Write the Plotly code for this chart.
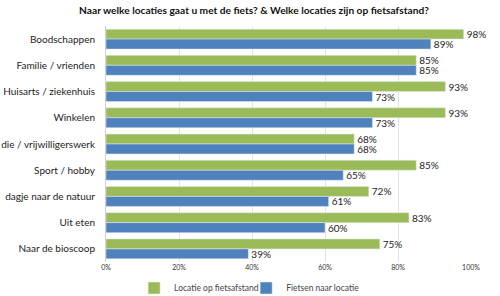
import plotly.graph_objects as go

categories = ["Boodschappen", "Familie / vrienden", "Huisarts / ziekenhuis", "Winkelen",
              "die / vrijwilligerswerk", "Sport / hobby", "dagje naar de natuur",
              "Uit eten", "Naar de bioscoop"]
locatie_op_fietsafstand = [98, 85, 93, 93, 68, 85, 72, 83, 75]
fietsen_naar_locatie = [89, 85, 73, 73, 68, 65, 61, 60, 39]
tick_vals = [0, 20, 40, 60, 80, 100]
tick_text = ["0%", "20%", "40%", "60%", "80%", "100%"]

GREEN = "#9BBB59"
BLUE = "#4F81BD"
FONT = "Lato"

fig = go.Figure()
for name, vals, color, leg in [("Locatie op fietsafstand", locatie_op_fietsafstand, GREEN, "legend"),
                               ("Fietsen naar locatie", fietsen_naar_locatie, BLUE, "legend2")]:
    fig.add_trace(go.Bar(
        y=categories, x=vals, orientation="h",
        name=name, marker_color=color, legend=leg,
        text=[f"{v}%" for v in vals], textposition="outside", cliponaxis=False,
        constraintext="none",
        textfont=dict(size=10, color="#222222", family=FONT),
    ))

legend_style = dict(orientation="h", xanchor="left", y=0.027, yanchor="middle",
                    yref="container", bgcolor="rgba(0,0,0,0)",
                    font=dict(size=8.5, family=FONT, color="#444444"), itemwidth=30)

fig.update_layout(
    width=500, height=296,
    margin=dict(l=106, r=29, t=26, b=34, autoexpand=False),
    paper_bgcolor="white", plot_bgcolor="white",
    barmode="group", bargap=0.24, bargroupgap=0,
    font=dict(family=FONT, color="#222222"),
    title=dict(text="<b>Naar welke locaties gaat u met de fiets? & Welke locaties zijn op fietsafstand?</b>",
               x=0.508, xanchor="center", y=0.965, yanchor="middle",
               font=dict(size=10.2, family=FONT, color="#111111")),
    showlegend=True,
    legend=dict(x=0.077, **legend_style),
    legend2=dict(x=0.384, **legend_style),
)
fig.update_xaxes(range=[0, 100], tickvals=tick_vals, ticktext=tick_text,
                 showgrid=True, gridcolor="#E3E3E3", gridwidth=1,
                 zeroline=False, showline=False,
                 tickfont=dict(size=7, family=FONT, color="#333333"), automargin=False)
fig.update_yaxes(autorange="reversed", showline=True, linecolor="#D0D0D0",
                 ticks="", ticklabelstandoff=8,
                 tickfont=dict(size=10, family=FONT, color="#222222"), automargin=False)

fig.write_html("out.html")
